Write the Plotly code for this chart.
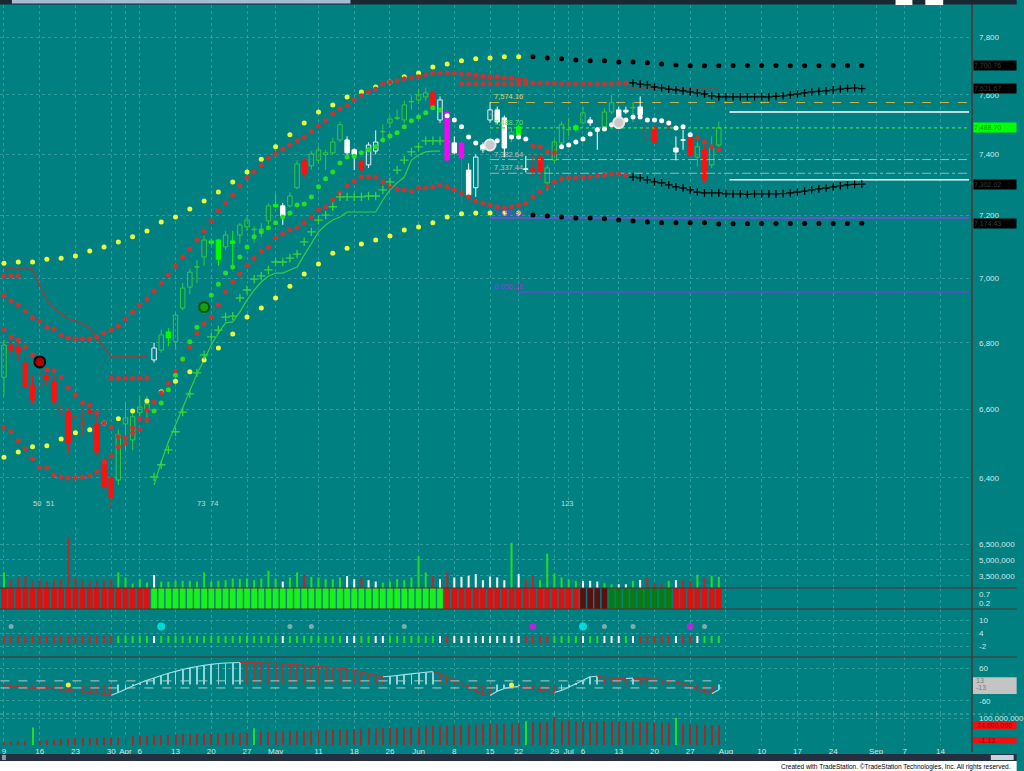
import math
import plotly.graph_objects as go
from plotly.subplots import make_subplots

# ---------------- DATA ----------------
tick_pos = [0, 5, 10, 15, 17, 19, 24, 29, 34, 38, 44, 49, 54, 58, 63, 68, 72, 77, 79, 81,
            86, 91, 96, 101, 106, 111, 116, 122, 126, 131]
tick_txt = ['9', '16', '23', '30', 'Apr', '6', '13', '20', '27', 'May', '11', '18', '26', 'Jun',
            '8', '15', '22', '29', 'Jul', '6', '13', '20', '27', 'Aug', '10', '17', '24', 'Sep', '7', '14']

opens = [6696, 6793, 6787, 6739, 6672, 6666, 6700, 6684, 6592, 6592,
         6578, 6560, 6598, 6555, 6452, 6400, 6394, 6557, 6510, 6590,
         6598, 6748, 6778, 6833, 6803, 6907, 6972, 7035, 7067, 7118,
         7121, 7099, 7118, 7137, 7163, 7154, 7156, 7182, 7235, 7231,
         7231, 7290, 7378, 7362, 7381, 7405, 7405, 7448, 7448, 7415,
         7378, 7365, 7411, 7475, 7505, 7520, 7515, 7576, 7583, 7593,
         7607, 7515, 7540, 7438, 7438, 7348, 7290, 7415, 7515, 7549,
         7522, 7460, 7492, 7352, 7352, 7391, 7306, 7381, 7438, 7483,
         7495, 7505, 7515, 7482, 7492, 7542, 7549, 7548, 7556, 7559,
         7455, 7488, 7505, 7506, 7421, 7448, 7455, 7391, 7415, 7365,
         7431]
highs = [6809, 6824, 6809, 6760, 6700, 6718, 6725, 6700, 6620, 6605,
         6650, 6600, 6625, 6580, 6460, 6410, 6540, 6620, 6590, 6640,
         6640, 6800, 6840, 6845, 6895, 6985, 7030, 7057, 7135, 7125,
         7125, 7150, 7150, 7175, 7195, 7165, 7175, 7240, 7270, 7240,
         7275, 7380, 7390, 7410, 7425, 7415, 7455, 7510, 7460, 7420,
         7385, 7440, 7480, 7500, 7530, 7550, 7580, 7600, 7620, 7625,
         7615, 7595, 7550, 7460, 7445, 7370, 7400, 7440, 7575, 7560,
         7530, 7490, 7500, 7395, 7400, 7400, 7365, 7450, 7510, 7522,
         7500, 7560, 7525, 7490, 7555, 7600, 7560, 7560, 7576, 7595,
         7505, 7495, 7520, 7520, 7460, 7482, 7470, 7440, 7430, 7460,
         7510]
lows = [6640, 6760, 6750, 6660, 6615, 6655, 6670, 6610, 6575, 6470,
        6510, 6520, 6570, 6465, 6370, 6314, 6380, 6480, 6480, 6570,
        6560, 6740, 6770, 6790, 6780, 6900, 6950, 6985, 7040, 7105,
        7040, 7090, 7042, 7110, 7150, 7112, 7130, 7170, 7225, 7170,
        7225, 7285, 7325, 7350, 7370, 7348, 7400, 7440, 7395, 7348,
        7340, 7355, 7400, 7450, 7490, 7515, 7505, 7550, 7570, 7580,
        7550, 7505, 7375, 7400, 7240, 7255, 7260, 7405, 7505, 7500,
        7390, 7440, 7460, 7340, 7330, 7320, 7280, 7370, 7430, 7460,
        7475, 7500, 7495, 7415, 7485, 7535, 7500, 7535, 7508, 7525,
        7445, 7435, 7490, 7485, 7380, 7415, 7390, 7360, 7306, 7355,
        7425]
closes = [6793, 6778, 6772, 6666, 6628, 6702, 6690, 6622, 6604, 6501,
          6575, 6557, 6590, 6475, 6374, 6343, 6525, 6575, 6578, 6607,
          6616, 6784, 6824, 6815, 6885, 6969, 7019, 7036, 7121, 7111,
          7060, 7137, 7110, 7169, 7185, 7155, 7154, 7231, 7228, 7198,
          7263, 7368, 7335, 7401, 7415, 7399, 7441, 7499, 7405, 7399,
          7348, 7431, 7441, 7476, 7518, 7523, 7566, 7578, 7600, 7607,
          7556, 7583, 7381, 7405, 7388, 7267, 7391, 7431, 7549, 7508,
          7421, 7475, 7465, 7350, 7343, 7343, 7355, 7441, 7499, 7482,
          7482, 7539, 7505, 7481, 7542, 7573, 7508, 7542, 7557, 7532,
          7490, 7441, 7504, 7504, 7408, 7447, 7398, 7425, 7316, 7421,
          7488.70]
candle_style = ("G" "RRRR" "D" "RR" "D" "R" "DD" "RRRR" "GGGGG" "H" "G" "L" "GGGGG" "LL" "G" "L"
                "GGGGG" "L" "W" "GG" "R" "GGGGG" "WW" "R" "HH" "GGGGGGG" "R" "H" "M" "W" "M" "W"
                "HHH" "WW" "G" "L" "W" "RR" "GGGG" "L" "G" "WW" "GG" "WW" "G" "W" "D" "R" "DD"
                "WW" "R" "G" "R" "GG")

# upper / lower dotted bands (every other bar) and their projections
yel_up_x = list(range(0, 74, 2))
yel_up = [7047, 7051, 7051, 7060, 7063, 7070, 7086, 7099, 7115, 7131, 7150, 7179, 7195, 7221,
          7247, 7276, 7309, 7342, 7384, 7425, 7465, 7505, 7542, 7566, 7593, 7610, 7627, 7644,
          7662, 7675, 7696, 7706, 7717, 7724, 7727, 7731, 7731]
blk_up_x = list(range(74, 122, 2))
blk_up = [7731, 7727, 7724, 7720, 7717, 7717, 7713, 7713, 7710, 7706, 7703, 7700, 7700, 7700,
          7701, 7701, 7701, 7701, 7700, 7700, 7700, 7701, 7701, 7700.76]
yel_lo = [6460, 6475, 6490, 6493, 6513, 6531, 6540, 6560, 6572, 6595, 6625, 6652, 6684, 6712,
          6748, 6784, 6827, 6879, 6907, 6938, 6975, 7013, 7045, 7079, 7095, 7108, 7121, 7134,
          7153, 7163, 7176, 7195, 7205, 7208, 7208, 7208, 7208]
blk_lo = [7201, 7198, 7195, 7192, 7192, 7189, 7185, 7182, 7179, 7176, 7176, 7176, 7176, 7172,
          7173, 7173, 7174, 7174, 7174, 7174, 7174, 7174, 7174, 7174.43]

# red '+' envelope (per bar) and black '+' projection
red_up = [6944, 6929, 6916, 6898, 6876, 6867, 6848, 6842, 6824, 6815,
          6812, 6812, 6812, 6818, 6830, 6839, 6851, 6873, 6895, 6916,
          6935, 6960, 6985, 7010, 7038, 7067, 7092, 7121, 7150, 7182,
          7215, 7240, 7266, 7296, 7322, 7342, 7365, 7388, 7401, 7418,
          7431, 7445, 7458, 7478, 7495, 7512, 7536, 7553, 7563, 7583,
          7597, 7610, 7620, 7637, 7644, 7648, 7655, 7658, 7662, 7669,
          7675, 7675, 7675, 7675, 7672, 7672, 7669, 7665, 7662, 7662,
          7658, 7658, 7651, 7648, 7641, 7641, 7641, 7641, 7637, 7637,
          7637, 7637, 7637, 7637, 7637, 7637, 7641, 7641]
blkp_up = [7641, 7637, 7634, 7627, 7624, 7620, 7617, 7614, 7610, 7607,
           7603, 7597, 7593, 7593, 7593, 7593, 7593, 7593, 7593, 7593,
           7595, 7597, 7600, 7603, 7607, 7610, 7612, 7614, 7617, 7620,
           7622, 7624, 7621.67]
red_lo = [6546, 6534, 6507, 6484, 6455, 6429, 6429, 6409, 6403, 6400,
          6400, 6403, 6406, 6417, 6446, 6463, 6490, 6516, 6546, 6572,
          6598, 6622, 6649, 6678, 6712, 6748, 6787, 6830, 6858, 6879,
          6916, 6957, 6988, 7013, 7041, 7063, 7086, 7099, 7127, 7140,
          7153, 7160, 7176, 7195, 7218, 7228, 7250, 7273, 7296, 7312,
          7325, 7325, 7325, 7309, 7296, 7286, 7283, 7279, 7289, 7289,
          7293, 7299, 7293, 7283, 7273, 7260, 7247, 7240, 7234, 7228,
          7224, 7228, 7234, 7240, 7260, 7276, 7293, 7309, 7319, 7322,
          7322, 7325, 7325, 7329, 7332, 7335, 7335, 7332]
blkp_lo = [7325, 7322, 7316, 7309, 7306, 7299, 7293, 7289, 7283, 7276,
           7273, 7273, 7273, 7270, 7270, 7270, 7268, 7270, 7270, 7270,
           7270, 7271, 7273, 7276, 7279, 7283, 7286, 7289, 7293, 7296,
           7299, 7301, 7302.02]

# inner trailing dots (per bar) and their state
inner = [6839, 6818, 6809, 6787, 6763, 6742, 6718, 6715, 6696, 6664,
         6643, 6619, 6613, 6590, 6560, 6546, 6519, 6501, 6531, 6540,
         6569, 6595, 6619, 6658, 6702, 6751, 6803, 6848, 6898, 6947,
         6981, 7016, 7035, 7067, 7099, 7131, 7147, 7160, 7176, 7195,
         7208, 7234, 7237, 7260, 7293, 7319, 7342, 7371, 7391, 7394,
         7405, 7415, 7425, 7448, 7461, 7472, 7492, 7512, 7525, 7539,
         7556, 7549, 7529, 7515, 7492, 7458, 7438, 7425, 7431, 7445,
         7451, 7458, 7458, 7451, 7428, 7425, 7408, 7405, 7425, 7431,
         7441, 7451, 7468, 7482, 7485, 7499, 7505, 7515, 7525, 7525,
         7515, 7515, 7512, 7505, 7488, 7492, 7465, 7455, 7441, 7425,
         7415]
inner_state = "R" * 21 + "G" * 41 + "W" * 12 + "R" * 4 + "W" * 19 + "R" * 4

# green '+' trail and green stop line (bars 21..61)
green_x = list(range(21, 62))
green_plus = [6403, 6438, 6481, 6534, 6592, 6646, 6709, 6763, 6818, 6839,
              6879, 6882, 6938, 6963, 6997, 7007, 7026, 7051, 7051, 7063,
              7076, 7115, 7147, 7185, 7201, 7228, 7260, 7260, 7260, 7260,
              7263, 7263, 7283, 7309, 7348, 7381, 7408, 7425, 7445, 7445,
              7445]
green_line = [6380, 6446, 6504, 6554, 6604, 6658, 6706, 6748, 6794, 6830,
              6861, 6864, 6895, 6932, 6963, 6988, 7007, 7016, 7016, 7026,
              7035, 7073, 7112, 7147, 7169, 7185, 7195, 7211, 7211, 7211,
              7211, 7211, 7250, 7283, 7306, 7325, 7381, 7398, 7408, 7411,
              7411]

# dark red stop lines
stop1_x = list(range(0, 21))
stop1 = [7029, 7029, 7029, 7029, 7029, 6979, 6932, 6907, 6889, 6873,
         6867, 6858, 6845, 6815, 6784, 6757, 6757, 6757, 6757, 6757, 6757]
stop2_x = list(range(64, 74))
stop2 = [7655, 7655, 7655, 7655, 7655, 7655, 7655, 7655, 7655, 7655]
stop3_x = list(range(87, 101))
stop3 = [7624, 7624, 7624, 7624, 7624, 7624, 7624, 7624, 7624, 7624, 7624, 7624, 7624, 7624]
redp2_x = list(range(64, 74))
redp2 = [7637, 7637, 7637, 7637, 7637, 7637, 7637, 7637, 7637, 7637]
redtrail_x = [0, 1, 2, 15, 16, 17, 18, 19, 20]
redtrail = [7007, 7007, 7007, 6693, 6693, 6693, 6693, 6693, 6693]

# big signal circles on price
big_x = [5, 28, 68, 86]
big_y = [6742, 6909, 7431, 7506]
big_kind = ['red', 'green', 'gray', 'gray']

# horizontal levels
lvl_vals = [7574.16, 7488.70, 7382.64, 7337.44, 7191.86, 6956.36]
lvl_start = [68, 68, 68, 68, 68, 71.8]
white_lvls = [7542, 7316]

count_txt = ['50', '51', '73', '74', '123']
count_x = [4.6, 6.4, 27.5, 29.4, 78.9]
count_y = 6326

# volume (millions)
volume = [3.82, 3.08, 3.34, 3.50, 3.02, 3.08, 2.95, 3.08, 3.18, 7.15,
          3.34, 3.02, 3.02, 3.02, 3.08, 3.18, 3.82, 3.34, 2.76, 3.18,
          2.85, 3.57, 2.95, 2.95, 3.02, 3.02, 3.02, 2.95, 3.82, 2.95,
          3.02, 3.08, 3.24, 3.18, 3.24, 3.08, 3.24, 3.98, 3.24, 2.95,
          3.34, 3.82, 3.60, 3.40, 3.34, 3.18, 3.18, 3.34, 3.47, 3.18,
          3.34, 3.08, 2.95, 2.85, 2.95, 3.18, 3.08, 3.34, 5.34, 3.82,
          3.50, 3.18, 3.82, 3.34, 3.40, 3.50, 3.66, 3.08, 3.43, 3.34,
          3.08, 6.63, 3.66, 3.08, 3.50, 3.08, 5.60, 3.72, 3.34, 3.18,
          3.02, 3.02, 3.02, 2.95, 2.79, 2.70, 2.69, 2.69, 3.02, 3.11,
          3.34, 2.76, 2.69, 3.02, 3.08, 3.08, 3.02, 3.60, 3.34, 3.50,
          3.40]
vol_state = ("G" + "R" * 15 + "G" * 5 + "W" + "G" * 17 + "W" + "GG" + "R" + "G" * 5 + "WW" + "R" +
             "WW" + "G" * 7 + "R" + "W" + "R" + "W" * 8 + "G" + "W" + "RR" + "G" * 6 + "WWW" + "GG" +
             "WW" + "G" + "W" + "RRR" + "G" + "W" + "RR" + "G" + "R" + "GG")

heat_state = "R" * 21 + "L" * 41 + "R" * 19 + "M" * 4 + "D" * 9 + "R" * 7

sig_x = [1, 22, 40, 43, 56, 74, 81, 84, 88, 96, 98]
sig_kind = ['gray', 'cyan', 'gray', 'gray', 'gray', 'magenta', 'cyan', 'gray', 'gray', 'magenta', 'gray']
sig_level = 7
tick_level = 1
tick_state = ("R" * 16 + "G" * 5 + "W" + "G" * 17 + "W" + "G" * 8 + "WW" + "GG" + "WW" + "G" * 7 + "W" +
              "R" + "W" * 10 + "R" * 4 + "G" * 4 + "W" + "GG" + "WWW" + "G" + "W" + "R" * 5 + "W" +
              "RR" + "W" + "GGG")

osc = [-5, -8, -10, -12, -14, -15, -16, -18, -20, -22,
       -25, -28, -30, -33, -36, -40, -30, -18, -6, 5,
       15, 24, 33, 41, 48, 55, 61, 66, 70, 74,
       77, 79, 80, 81, 81, 81, 80, 79, 78, 76,
       74, 72, 70, 68, 66, 64, 62, 60, 57, 52,
       46, 40, 34, 28, 30, 33, 36, 39, 42, 45,
       47, 40, 28, 15, 2, -12, -25, -38, -41, -25,
       -15, -10, -8, -14, -18, -22, -26, -30, -22, -10,
       2, 15, 28, 30, 26, 24, 23, 22, 23, 22,
       21, 20, 18, 16, 10, 2, -8, -18, -28, -34,
       -20]
osc_band = 13
osc_dot_x = [9, 71]
osc_dot = [-2, -2]

flow = [10, 12, 14, 15, 65, 16, 18, 20, 22, 24,
        26, 27, 27, 28, 28, 28, 30, 31, 32, 33,
        34, 36, 37, 38, 39, 40, 40, 41, 42, 42,
        43, 44, 45, 45, 46, 62, 48, 48, 50, 51,
        52, 52, 53, 54, 55, 56, 57, 58, 58, 59,
        60, 61, 62, 63, 64, 65, 66, 67, 68, 69,
        70, 71, 72, 73, 74, 75, 76, 77, 78, 79,
        80, 81, 82, 88, 83, 84, 85, 104, 90, 92,
        88, 86, 87, 88, 89, 90, 88, 87, 86, 85,
        84, 83, 82, 82, 100, 80, 76, 75, 75, 74,
        74]
flow_green = [4, 35, 73, 94]

N = len(closes)
bars = list(range(N))
assert len(candle_style) == N and len(inner_state) == N and len(vol_state) == N
assert len(heat_state) == N and len(tick_state) == N

# ---------------- FIGURE ----------------
BG = '#008080'
TXT = '#d6e6e6'
GRID = 'rgba(170,225,225,0.28)'
FONT = 'Liberation Sans, Arial, sans-serif'

fig = make_subplots(rows=6, cols=1, shared_xaxes=True, vertical_spacing=0,
                    row_heights=[532, 51, 21, 48, 57, 31])


def add(tr, row=1):
    fig.add_trace(tr, row=row, col=1)


def line(x, y, color, width=1, dash='solid', row=1):
    add(go.Scatter(x=x, y=y, mode='lines', line=dict(color=color, width=width, dash=dash),
                   hoverinfo='skip'), row)


def dots(x, y, color, size=5, symbol='circle', lw=0, lc=None, row=1):
    add(go.Scatter(x=x, y=y, mode='markers',
                   marker=dict(color=color, size=size, symbol=symbol,
                               line=dict(width=lw, color=lc if lc else color)),
                   hoverinfo='skip'), row)


# levels
lvl_style = [('#c8b446', 1.2, 'dash'), ('#3fe03f', 1.2, 'dot'), ('#a9b0b0', 1, 'dashdot'),
             ('#a9b0b0', 1, 'dashdot'), ('#5a5ac0', 2.2, 'solid'), ('#6050c8', 1.4, 'solid')]
lvl_txtcol = ['#e0d060', '#50f050', '#b8c0c0', '#b8c0c0', '#8a3ae0', '#8a3ae0']
XR = 135.0
for v, s0, (c, w, d) in zip(lvl_vals, lvl_start, lvl_style):
    line([s0, XR], [v, v], c, w, d)
for v in white_lvls:
    line([101.5, XR], [v, v], '#ffffff', 1.6)

# step / trailing lines
line(stop1_x, stop1, '#9c3c3c', 1.3)
line(stop2_x, stop2, '#9c3c3c', 1.1)
line(stop3_x, stop3, '#9c3c3c', 1.1)
line(green_x, green_line, '#33cc44', 1.2)

# candles
CS = {'G': ('rgba(0,0,0,0)', '#36c83c'), 'L': ('#00ff00', '#00ff00'), 'R': ('#ff1010', '#ff1010'),
      'W': ('#ffffff', '#ffffff'), 'H': ('rgba(0,0,0,0)', '#e6f2ff'), 'M': ('#ff00ff', '#ff00ff'),
      'D': ('rgba(0,0,0,0)', '#b03a3a')}
for key, (fill, lc) in CS.items():
    idx = [i for i in bars if candle_style[i] == key]
    if not idx:
        continue
    wx, wy = [], []
    for i in idx:
        lo_b, hi_b = min(opens[i], closes[i]), max(opens[i], closes[i])
        wx += [i, i, None, i, i, None]
        wy += [lows[i], lo_b, None, hi_b, highs[i], None]
    line(wx, wy, lc, 1)
    add(go.Bar(x=idx, base=[min(opens[i], closes[i]) for i in idx],
               y=[max(abs(closes[i] - opens[i]), 1.5) for i in idx], width=0.62,
               marker=dict(color=fill, line=dict(color=lc, width=1)), hoverinfo='skip'))

# bands
RED = '#c83434'
dots(yel_up_x, yel_up, '#ecff3c', 5)
dots(yel_up_x, yel_lo, '#ecff3c', 5)
dots(blk_up_x, blk_up, '#000000', 5)
dots(blk_up_x, blk_lo, '#000000', 5)
dots(list(range(len(red_up))), red_up, RED, 5)
dots(list(range(len(red_lo))), red_lo, RED, 5)
dots(redp2_x, redp2, RED, 5)
dots(redtrail_x, redtrail, RED, 5)
px = list(range(88, 88 + len(blkp_up)))
dots(px, blkp_up, '#000000', 5.5, 'cross-thin', 1.3, '#000000')
dots(px, blkp_lo, '#000000', 5.5, 'cross-thin', 1.3, '#000000')
dots(green_x, green_plus, '#3cd23c', 6, 'cross-thin', 1.3, '#3cd23c')
inner_col = {'R': RED, 'G': '#22e022', 'W': '#ffffff'}
dots(bars, inner, [inner_col[s] for s in inner_state], 5)

big_style = {'red': ('#b00000', '#000000', 11), 'green': ('#14a014', '#005000', 10),
             'gray': ('#c9c9c9', '#e8e8e8', 11)}
for x, y, k in zip(big_x, big_y, big_kind):
    c, lc, s = big_style[k]
    dots([x], [y], c, s, 'circle', 2, lc)

# volume
vcol = {'G': '#22dd22', 'R': '#b82828', 'W': '#ffffff'}
add(go.Bar(x=bars, y=[v * 1e6 for v in volume], width=0.28,
           marker=dict(color=[vcol[s] for s in vol_state], line=dict(width=0)), hoverinfo='skip'), 2)

# heat strip
hcol = {'R': '#e01010', 'L': '#1cf01c', 'M': '#5a1010', 'D': '#0b7a14'}
add(go.Bar(x=bars, y=[1.3] * N, base=-0.2, width=0.8,
           marker=dict(color=[hcol[s] for s in heat_state], line=dict(width=0)), hoverinfo='skip'), 3)

# signal dots pane
scol = {'gray': ('#b8bcbc', 5), 'cyan': ('#00ffff', 8), 'magenta': ('#ff00ff', 7)}
dots(sig_x, [sig_level] * len(sig_x), [scol[k][0] for k in sig_kind], [scol[k][1] for k in sig_kind], row=4)
tcol = {'R': '#d02020', 'G': '#22dd22', 'W': '#ffffff'}
line([-0.5, N - 0.5], [tick_level, tick_level], 'rgba(200,60,60,0.8)', 1, 'dot', row=4)
add(go.Scatter(x=bars, y=[tick_level] * N, mode='markers',
               marker=dict(symbol='line-ns', size=5,
                           line=dict(width=2, color=[tcol[s] for s in tick_state])),
               hoverinfo='skip'), 4)

# oscillator
CY, RD = '#a6e4ec', '#b83030'
ocol = [RD] + [CY if osc[i] > osc[i - 1] else RD for i in range(1, N)]
add(go.Bar(x=bars, y=osc, width=0.12, marker=dict(color=ocol, line=dict(width=0)), opacity=0.85,
           hoverinfo='skip'), 5)
segc = {CY: ([], []), RD: ([], [])}
for i in range(1, N):
    sx, sy = segc[ocol[i]]
    sx += [i - 1, i, None]
    sy += [osc[i - 1], osc[i], None]
for c, (sx, sy) in segc.items():
    line(sx, sy, c, 1.1, row=5)
line([-0.5, N - 0.6], [osc_band, osc_band], '#b8c8c8', 1, 'dash', row=5)
line([-0.5, N - 0.6], [-osc_band, -osc_band], '#b8c8c8', 1, 'dash', row=5)
dots(osc_dot_x, osc_dot, '#f0f040', 5, row=5)

# bottom flow pane
add(go.Bar(x=bars, y=[v * 1e6 for v in flow], width=0.14,
           marker=dict(color=['#22dd22' if i in flow_green else '#a82828' for i in bars], line=dict(width=0)),
           hoverinfo='skip'), 6)

# ---------------- LAYOUT ----------------
fig.update_layout(width=1024, height=771, margin=dict(l=0, r=48, t=5, b=26),
                  paper_bgcolor=BG, plot_bgcolor=BG, barmode='overlay', showlegend=False,
                  hovermode=False, font=dict(family=FONT, size=8, color=TXT))
fig.update_xaxes(range=[-0.556, XR], tickvals=tick_pos, ticktext=tick_txt, showgrid=True,
                 gridcolor=GRID, griddash='dot', gridwidth=1, zeroline=False, showline=False,
                 ticks='', showticklabels=False)
fig.update_xaxes(showticklabels=True, tickfont=dict(size=8, color=TXT), row=6, col=1)
fig.update_yaxes(side='right', showgrid=True, gridcolor=GRID, griddash='dot', zeroline=False,
                 showline=False, ticks='', tickfont=dict(size=8, color=TXT), ticklabelstandoff=9)
price_ticks = [6400, 6600, 6800, 7000, 7200, 7400, 7600, 7800]
fig.update_yaxes(type='log', range=[3.79467, 3.89833], tickvals=price_ticks,
                 ticktext=[f"{t:,}" for t in price_ticks], row=1, col=1)
vt = [3.5e6, 5e6, 6.5e6]
fig.update_yaxes(range=[2.34e6, 7.18e6], tickvals=vt, ticktext=[f"{int(t):,}" for t in vt], row=2, col=1)
fig.update_yaxes(range=[-0.175, 1.075], tickvals=[0.2, 0.7], ticktext=['0.2', '0.7'], showgrid=False, row=3, col=1)
fig.update_yaxes(range=[-7.08, 15.08], tickvals=[-2, 4, 10], ticktext=['-2', '4', '10'], row=4, col=1)
fig.update_yaxes(range=[-109, 101], tickvals=[-60, 60], ticktext=['-60', '60'], row=5, col=1)
fig.update_yaxes(range=[0, 114.8e6], tickvals=[100e6], ticktext=['100,000,000'], row=6, col=1)


def pxx(p):
    return p / 976.0


def pxy(p):
    return (745.0 - p) / 740.0


shapes = []
R_EDGE = pxx(1024)
# pane separators
for yy in (588, 609, 657):
    shapes.append(dict(type='line', xref='paper', yref='paper', x0=0, x1=R_EDGE, y0=pxy(yy), y1=pxy(yy),
                       line=dict(color='#5c2a2a', width=1.2)))
shapes.append(dict(type='line', xref='paper', yref='paper', x0=0, x1=R_EDGE, y0=pxy(714), y1=pxy(714),
                   line=dict(color='rgba(170,225,225,0.5)', width=1, dash='dot')))
# right axis separator
shapes.append(dict(type='line', xref='paper', yref='paper', x0=pxx(979), x1=pxx(979), y0=pxy(752), y1=pxy(0),
                   line=dict(color='#3a4646', width=2)))
# top strip
shapes.append(dict(type='rect', xref='paper', yref='paper', x0=0, x1=R_EDGE, y0=pxy(4.5), y1=pxy(0),
                   fillcolor='#1b2633', line=dict(width=0)))
shapes.append(dict(type='rect', xref='paper', yref='paper', x0=pxx(12), x1=pxx(353), y0=pxy(3.5), y1=pxy(0),
                   fillcolor='#a8bdd4', line=dict(width=0)))
for a, b in ((902, 919), (932, 950)):
    shapes.append(dict(type='rect', xref='paper', yref='paper', x0=pxx(a), x1=pxx(b), y0=pxy(5), y1=pxy(0),
                       fillcolor='#ffffff', line=dict(width=0)))
# bottom scrollbar + white footer
shapes.append(dict(type='rect', xref='paper', yref='paper', x0=0, x1=R_EDGE, y0=pxy(761), y1=pxy(754),
                   fillcolor='#243040', line=dict(width=0)))
shapes.append(dict(type='rect', xref='paper', yref='paper', x0=pxx(998), x1=pxx(1021), y0=pxy(760), y1=pxy(755),
                   fillcolor='#c8d2dc', line=dict(width=0)))
shapes.append(dict(type='rect', xref='paper', yref='paper', x0=pxx(2), x1=pxx(6), y0=pxy(760), y1=pxy(755),
                   fillcolor='#8899aa', line=dict(width=0)))
shapes.append(dict(type='rect', xref='paper', yref='paper', x0=0, x1=R_EDGE, y0=pxy(771), y1=pxy(761),
                   fillcolor='#ffffff', line=dict(width=0)))
# osc gray value box and flow red boxes
shapes.append(dict(type='rect', xref='paper', yref='y5', x0=pxx(980), x1=R_EDGE, y0=-35, y1=26,
                   fillcolor='#c4c4c4', line=dict(width=0)))
shapes.append(dict(type='rect', xref='paper', yref='y6', x0=pxx(980), x1=R_EDGE, y0=59e6, y1=88e6,
                   fillcolor='#ee1111', line=dict(width=0)))
shapes.append(dict(type='rect', xref='paper', yref='y6', x0=pxx(980), x1=R_EDGE, y0=6e6, y1=30e6,
                   fillcolor='#ee1111', line=dict(width=0)))
fig.update_layout(shapes=shapes)

ann = []
# price value boxes on the right axis
box_vals = [blk_up[-1], blkp_up[-1], closes[-1], blkp_lo[-1], blk_lo[-1]]
box_bg = ['#000000', '#000000', '#00ff00', '#000000', '#000000']
box_fg = ['#3a3a3a', '#3a3a3a', '#08a008', '#3a3a3a', '#3a3a3a']
for v, bg, fg in zip(box_vals, box_bg, box_fg):
    ann.append(dict(xref='paper', yref='y', x=pxx(980), y=math.log10(v), xanchor='left', yanchor='middle',
                    text=f"{v:,.2f}", showarrow=False, bgcolor=bg, width=42, height=9, borderpad=0,
                    align='left', font=dict(size=7, color=fg)))
# level labels
for v, s0, c in zip(lvl_vals, [68.3] * 6, lvl_txtcol):
    ann.append(dict(xref='x', yref='y', x=s0, y=math.log10(v), xanchor='left', yanchor='bottom',
                    text=f"{v:,.2f}", showarrow=False, font=dict(size=7.5, color=c), yshift=-1))
# counters
for t, x in zip(count_txt, count_x):
    ann.append(dict(xref='x', yref='y', x=x, y=math.log10(count_y), text=t, showarrow=False,
                    font=dict(size=7.5, color='#c8d8d8')))
# osc box labels
for v in (osc_band, -osc_band):
    ann.append(dict(xref='paper', yref='y5', x=pxx(981), y=v, xanchor='left', text=str(v), showarrow=False,
                    font=dict(size=7, color='#7c7c7c')))
# flow box labels
ann.append(dict(xref='paper', yref='y6', x=pxx(982), y=73.5e6, xanchor='left', text=f"{int(flow[-1] * 1e6):,}",
                showarrow=False, font=dict(size=7, color='#a00000')))
ann.append(dict(xref='paper', yref='y6', x=pxx(984), y=18e6, xanchor='left', text='-1.13',
                showarrow=False, font=dict(size=7, color='#a00000')))
# footer
ann.append(dict(xref='paper', yref='paper', x=pxx(1020), y=pxy(766.5), xanchor='right', yanchor='middle',
                text='Created with TradeStation. ©TradeStation Technologies, Inc. All rights reserved.',
                showarrow=False, font=dict(size=6.5, color='#000000', family='Liberation Sans Narrow, Arial Narrow, Arial')))
fig.update_layout(annotations=ann)

fig.write_html("out.html", config={'displayModeBar': False})
with open("out.html", "r", encoding="utf-8") as f:
    html = f.read()
html = html.replace("<body>", '<body style="margin:0;overflow:hidden;background:#008080">', 1)
with open("out.html", "w", encoding="utf-8") as f:
    f.write(html)
